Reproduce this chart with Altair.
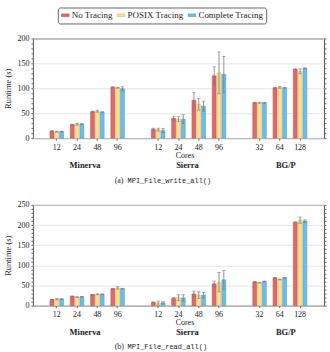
import altair as alt
import pandas as pd

# Series and machines
series = ["No Tracing", "POSIX Tracing", "Complete Tracing"]
fills = ["#DF6A6A", "#FFE08E", "#6DBDE6"]
edges = ["#B34E4E", "#D4B468", "#4A9AC4"]

groups = ["Minerva", "Sierra", "BG/P"]
cores = {
    "Minerva": ["12", "24", "48", "96"],
    "Sierra": ["12", "24", "48", "96"],
    "BG/P": ["32", "64", "128"],
}

# MPI_File_write_all() runtimes (s) and error half-widths
write_no = [14, 27, 53, 102, 18, 40, 76, 125, 71, 101, 138]
write_posix = [13, 28, 54, 101, 17, 38, 68, 131, 71, 102, 134]
write_complete = [13, 28, 52, 99, 15, 38, 64, 128, 71, 101, 140]
write_no_err = [1, 1, 1, 1, 2, 4, 16, 18, 1, 1, 1]
write_posix_err = [1, 2, 2, 1, 3, 5, 12, 42, 1, 2, 5]
write_complete_err = [1, 1, 1, 4, 4, 9, 10, 36, 1, 1, 1]

# MPI_File_read_all() runtimes (s) and error half-widths
read_no = [15, 23, 27, 42, 8, 18, 29, 54, 59, 69, 207]
read_posix = [16, 21, 28, 44, 6, 20, 26, 58, 57, 65, 212]
read_complete = [16, 22, 28, 42, 7, 19, 26, 64, 60, 69, 210]
read_no_err = [1, 1, 1, 1, 1, 2, 7, 7, 1, 1, 1]
read_posix_err = [2, 1, 1, 3, 5, 7, 8, 24, 1, 1, 8]
read_complete_err = [1, 1, 1, 1, 3, 8, 7, 23, 1, 1, 3]

FONT = "Liberation Serif, DejaVu Serif, serif"
MONO = "Liberation Mono, DejaVu Sans Mono, monospace"

cats = [f"{g}|{c}" for g in groups for c in cores[g]]
domain = (
    [f"Minerva|{c}" for c in cores["Minerva"]] + ["gap1"]
    + [f"Sierra|{c}" for c in cores["Sierra"]] + ["gap2"]
    + [f"BG/P|{c}" for c in cores["BG/P"]]
)
xscale = alt.Scale(domain=domain, paddingInner=0.33, paddingOuter=0.845)
xaxis = alt.Axis(values=cats, labelExpr="split(datum.label, '|')[1]",
                 title="Cores", titleFont=FONT, titleFontSize=8,
                 titleFontWeight="normal", titlePadding=0, titleX=152,
                 labelFont=FONT, labelFontSize=8, labelAngle=0,
                 labelPadding=3, tickSize=2, tickColor="#666",
                 domain=False, grid=False, labelColor="#222",
                 titleColor="#222")


def xenc():
    return alt.X("cat:N", scale=xscale, sort=domain, axis=xaxis)


def frame(values, errs):
    rows = []
    for s, vals, es in zip(series, values, errs):
        for cat, v, e in zip(cats, vals, es):
            rows.append({"cat": cat, "series": s, "runtime": v,
                         "lo": v - e, "hi": v + e})
    return pd.DataFrame(rows)


# group label anchors: category and horizontal shift
group_labels = [("Minerva", "Minerva|24", 8), ("Sierra", "Sierra|24", 9),
                ("BG/P", "BG/P|64", 6)]


def panel(df, ymax, tag, func, show_legend, h):
    yscale = alt.Scale(domain=[0, ymax], nice=False)
    minor = list(range(0, ymax + 1, 10))
    xoff = alt.XOffset("series:N", sort=series,
                       scale=alt.Scale(domain=series, paddingInner=0.18))
    legend = alt.Legend(
        orient="none", legendX=25, legendY=-31, direction="horizontal",
        title=None, labelFont=FONT, labelFontSize=9, labelColor="#222",
        symbolType="M-1,-0.35H1V0.35H-1Z", symbolSize=56,
        symbolStrokeColor="#555", symbolStrokeWidth=0.6,
        columnPadding=3, labelOffset=2, padding=3,
        strokeColor="#666", fillColor="white", cornerRadius=2,
    ) if show_legend else None

    bars = alt.Chart(df).mark_bar(strokeWidth=0.5).encode(
        x=xenc(), xOffset=xoff,
        y=alt.Y("runtime:Q", scale=yscale,
                axis=alt.Axis(values=minor, orient="left",
                              labelExpr="datum.value % 50 === 0 ? datum.label : ''",
                              gridOpacity={"condition": {"test": "datum.value % 50 !== 0", "value": 0}, "value": 1},
                              grid=True, gridColor="#dddddd", gridWidth=0.8,
                              tickSize=2, tickColor="#666", domain=False,
                              labelFont=FONT, labelFontSize=8, labelPadding=2,
                              labelColor="#222", title="Runtime (s)",
                              titleFont=FONT, titleFontSize=8.5,
                              titleFontWeight="normal", titleColor="#222",
                              titlePadding=4)),
        color=alt.Color("series:N", sort=series,
                        scale=alt.Scale(domain=series, range=fills),
                        legend=legend),
        stroke=alt.Stroke("series:N", sort=series,
                          scale=alt.Scale(domain=series, range=edges),
                          legend=None),
    )
    err = alt.Chart(df).mark_rule(color="#777", strokeWidth=0.8).encode(
        x=xenc(), xOffset=xoff,
        y=alt.Y("lo:Q", scale=yscale,
                axis=alt.Axis(values=minor, orient="right", labels=False,
                              tickSize=2, tickColor="#666", domain=False,
                              grid=False, title=None)),
        y2="hi:Q",
    )
    cap_hi = alt.Chart(df).mark_tick(color="#777", thickness=0.8, size=3.5).encode(
        x=xenc(), xOffset=xoff,
        y=alt.Y("hi:Q", scale=yscale, axis=None),
    )
    cap_lo = alt.Chart(df).mark_tick(color="#777", thickness=0.8, size=3.5).encode(
        x=xenc(), xOffset=xoff,
        y=alt.Y("lo:Q", scale=yscale, axis=None),
    )
    layers = [bars, err, cap_hi, cap_lo]
    for name, anchor, shift in group_labels:
        layers.append(
            alt.Chart(pd.DataFrame({"g": [name], "cat": [anchor]}))
            .mark_text(font=FONT, fontSize=8.5, fontWeight="bold",
                       color="#222", dx=shift, baseline="middle")
            .encode(x=xenc(), y=alt.value(127), text="g:N")
        )
    layers.append(
        alt.Chart(alt.Data(values=[{}]))
        .mark_text(text=tag, font=FONT, fontSize=8, color="#222",
                   align="left", baseline="middle")
        .encode(x=alt.value(82), y=alt.value(143))
    )
    layers.append(
        alt.Chart(alt.Data(values=[{}]))
        .mark_text(text=func, font=MONO, fontSize=7, color="#222",
                   align="left", baseline="middle")
        .encode(x=alt.value(95), y=alt.value(143))
    )
    return alt.layer(*layers).resolve_scale(y="independent").properties(
        width=292, height=h)


top = panel(frame([write_no, write_posix, write_complete],
                  [write_no_err, write_posix_err, write_complete_err]),
            200, "(a)", "MPI_File_write_all()", True, 100)
bottom = panel(frame([read_no, read_posix, read_complete],
                     [read_no_err, read_posix_err, read_complete_err]),
               250, "(b)", "MPI_File_read_all()", False, 101)

chart = (
    alt.vconcat(top, bottom, spacing=14)
    .resolve_legend(color="independent", stroke="independent")
    .properties(padding={"left": 3, "top": 6, "right": 3, "bottom": 2})
    .configure_view(stroke="#555", strokeWidth=1)
)

chart.save("out.html", embed_options={"renderer": "svg", "actions": False})
